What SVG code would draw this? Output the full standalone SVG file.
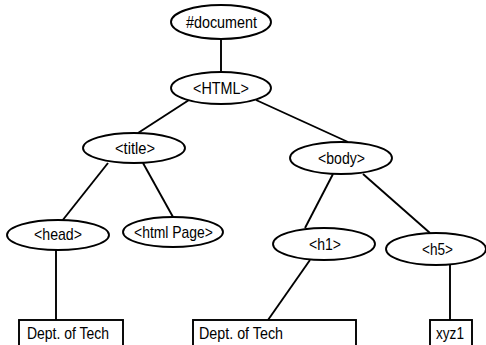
<svg xmlns="http://www.w3.org/2000/svg" width="486" height="345" viewBox="0 0 486 345">
<style>
.n ellipse, .n rect { fill: #fff; stroke: #000; stroke-width: 1.9; }
.n text { font-family: "Liberation Sans", Arial, sans-serif; font-size: 17px; fill: #000; }
#connectors line { stroke: #000; stroke-width: 1.9; }
</style>
<rect width="486" height="345" fill="#fff"/>
<g id="connectors">
<line x1="221" y1="39" x2="221" y2="72"/>
<line x1="189" y1="100" x2="138" y2="133"/>
<line x1="256" y1="100" x2="348" y2="142"/>
<line x1="108" y1="163" x2="62" y2="221"/>
<line x1="143" y1="163" x2="173" y2="217"/>
<line x1="333" y1="174" x2="305" y2="228"/>
<line x1="363" y1="174" x2="430" y2="233"/>
<line x1="56" y1="250" x2="56" y2="320"/>
<line x1="310" y1="260" x2="268" y2="320"/>
<line x1="450" y1="265" x2="450" y2="320"/>
</g>
<g id="document" class="n"><ellipse cx="221" cy="22" rx="50" ry="17"/><text x="186" y="28" textLength="71" lengthAdjust="spacingAndGlyphs">#document</text></g>
<g id="html" class="n"><ellipse cx="221" cy="88" rx="50" ry="16"/><text x="193" y="94" textLength="56" lengthAdjust="spacingAndGlyphs">&lt;HTML&gt;</text></g>
<g id="title" class="n"><ellipse cx="134" cy="148" rx="51" ry="15"/><text x="115" y="154" textLength="40" lengthAdjust="spacingAndGlyphs">&lt;title&gt;</text></g>
<g id="head" class="n"><ellipse cx="58" cy="235" rx="51" ry="15"/><text x="34" y="240" textLength="48" lengthAdjust="spacingAndGlyphs">&lt;head&gt;</text></g>
<g id="htmlpage" class="n"><ellipse cx="173" cy="232" rx="50" ry="15"/><text x="134" y="238" textLength="79" lengthAdjust="spacingAndGlyphs">&lt;html Page&gt;</text></g>
<g id="body" class="n"><ellipse cx="341" cy="158" rx="51" ry="16"/><text x="318" y="164" textLength="47" lengthAdjust="spacingAndGlyphs">&lt;body&gt;</text></g>
<g id="h1" class="n"><ellipse cx="324" cy="244" rx="51" ry="16"/><text x="309" y="250" textLength="32" lengthAdjust="spacingAndGlyphs">&lt;h1&gt;</text></g>
<g id="h5" class="n"><ellipse cx="436" cy="249" rx="50" ry="16"/><text x="422" y="255" textLength="31" lengthAdjust="spacingAndGlyphs">&lt;h5&gt;</text></g>
<g id="text1" class="n"><rect x="19" y="320" width="104" height="35"/><text x="27" y="339" textLength="82" lengthAdjust="spacingAndGlyphs">Dept. of Tech</text></g>
<g id="text2" class="n"><rect x="193" y="320" width="163" height="35"/><text x="199" y="339" textLength="84" lengthAdjust="spacingAndGlyphs">Dept. of Tech</text></g>
<g id="text3" class="n"><rect x="430" y="320" width="42" height="35"/><text x="436" y="339" textLength="28" lengthAdjust="spacingAndGlyphs">xyz1</text></g>
</svg>
